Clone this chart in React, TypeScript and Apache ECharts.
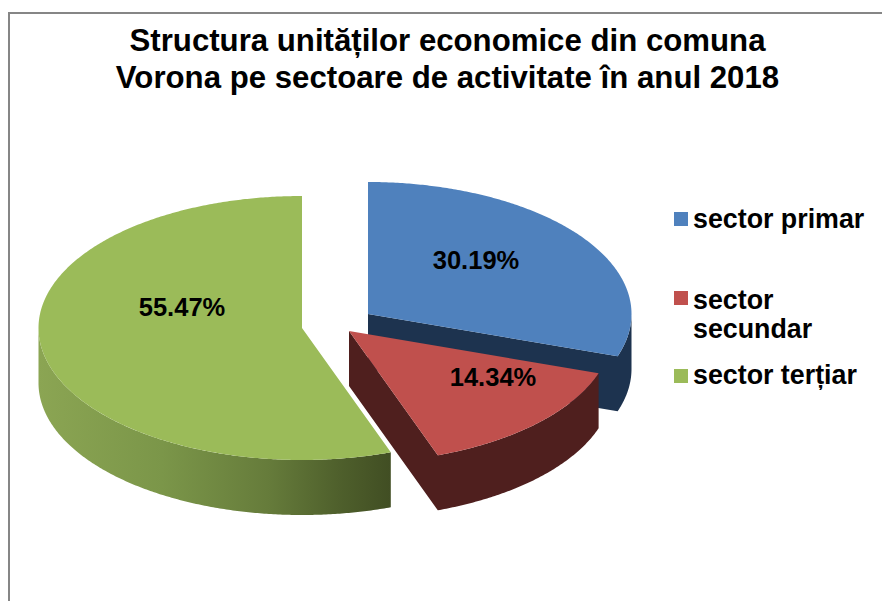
import React, { useEffect, useRef } from "react";
import * as echarts from "echarts";

const titleText = "Structura unităților economice din comuna\nVorona pe sectoare de activitate în anul 2018";
const categories = ["sector primar", "sector secundar", "sector terțiar"];
const legendLabels = ["sector primar", "sector\nsecundar", "sector terțiar"];
const shares = [30.19, 14.34, 55.47];

const FONT = '"Liberation Sans", Arial, sans-serif';
const topColors = ["#4f81bd", "#c0504d", "#9bbb59"];
const wallColors: any[] = [
  "#1d334f",
  "#4f1f1e",
  new echarts.graphic.LinearGradient(0, 0, 1, 0, [
    { offset: 0, color: "#8ba553" },
    { offset: 0.35, color: "#7b9649" },
    { offset: 0.65, color: "#667c3b" },
    { offset: 0.85, color: "#4f602c" },
    { offset: 1, color: "#414e23" },
  ]),
];
const centers = [
  [368, 314],
  [349, 331],
  [302, 328],
];
const labelAnchors = [
  [476, 260],
  [493, 377],
  [182, 307],
];
const legendRows = [
  { swatchY: 212, textY: 204 },
  { swatchY: 291, textY: 285 },
  { swatchY: 369, textY: 360 },
];
const RX = 263.5;
const RY = 132;
const DEPTH = 55;

const total = shares.reduce((a, b) => a + b, 0);

function pt(c: number[], t: number, dy = 0) {
  return [c[0] + RX * Math.sin(t), c[1] - RY * Math.cos(t) + dy];
}
function arc(c: number[], a: number, b: number, dy = 0) {
  const n = Math.max(2, Math.ceil(((b - a) * 180) / Math.PI / 0.5));
  const out: number[][] = [];
  for (let i = 0; i <= n; i++) out.push(pt(c, a + ((b - a) * i) / n, dy));
  return out;
}
function toPath(points: number[][]) {
  return "M" + points.map((p) => p[0].toFixed(2) + " " + p[1].toFixed(2)).join("L") + "Z";
}

function renderSlice(params: any, api: any) {
  const i = params.dataIndex;
  const before = shares.slice(0, i).reduce((a, b) => a + b, 0);
  const a = (before / total) * 2 * Math.PI;
  const b = ((before + api.value(0)) / total) * 2 * Math.PI;
  const c = centers[i];
  const children: any[] = [];
  const wall = wallColors[i];
  const path = (pts: number[][], fill: any) => ({
    type: "path",
    shape: { pathData: toPath(pts) },
    style: { fill, stroke: null },
  });
  // the wall is one outline: the front of the rim plus the cut face that turns toward the viewer
  const from = Math.max(a, Math.PI / 2);
  const to = Math.min(b, (3 * Math.PI) / 2);
  const endCutVisible = Math.sin(b) > 0.001;
  if (to > from) {
    const rim = [...arc(c, from, to).reverse(), ...arc(c, from, to, DEPTH)];
    children.push(path(endCutVisible ? [c, ...rim, [c[0], c[1] + DEPTH]] : rim, wall));
  }
  // top face
  children.push(path([c, ...arc(c, a, b)], topColors[i]));
  children.push({
    type: "text",
    x: labelAnchors[i][0],
    y: labelAnchors[i][1],
    style: {
      text: api.value(0).toFixed(2) + "%",
      fill: "#000",
      font: "bold 25.5px " + FONT,
      align: "center",
      verticalAlign: "middle",
    },
  });
  return { type: "group", children };
}

export default function App() {
  const ref = useRef<HTMLDivElement>(null);
  useEffect(() => {
    document.body.style.margin = "0";
    const chart = echarts.init(ref.current!, null, { renderer: "svg" });
    chart.setOption({
      animation: false,
      backgroundColor: "#fff",
      title: {
        text: titleText,
        left: 447.5,
        top: 22,
        padding: 0,
        textAlign: "center",
        textStyle: {
          fontFamily: FONT,
          fontWeight: "bold",
          fontSize: 31.2,
          lineHeight: 37,
          color: "#000",
        },
      },
      graphic: [
        { type: "line", shape: { x1: 9, y1: 13, x2: 882, y2: 13 }, style: { stroke: "#868686", lineWidth: 2 } },
        { type: "line", shape: { x1: 9, y1: 12, x2: 9, y2: 601 }, style: { stroke: "#868686", lineWidth: 2 } },
        ...legendLabels.flatMap((label, i) => [
          {
            type: "rect",
            shape: { x: 674, y: legendRows[i].swatchY, width: 14, height: 14 },
            style: { fill: topColors[i] },
          },
          {
            type: "text",
            x: 693,
            y: legendRows[i].textY,
            style: {
              text: label,
              fill: "#000",
              font: "bold 26.8px " + FONT,
              lineHeight: 29,
              align: "left",
              verticalAlign: "top",
            },
          },
        ]),
      ],
      series: [
        {
          type: "custom",
          coordinateSystem: "none",
          silent: true,
          renderItem: renderSlice,
          data: shares.map((v, i) => ({ name: categories[i], value: [v] })),
        },
      ],
    });
    return () => chart.dispose();
  }, []);
  return <div ref={ref} style={{ width: 882, height: 601 }} />;
}
